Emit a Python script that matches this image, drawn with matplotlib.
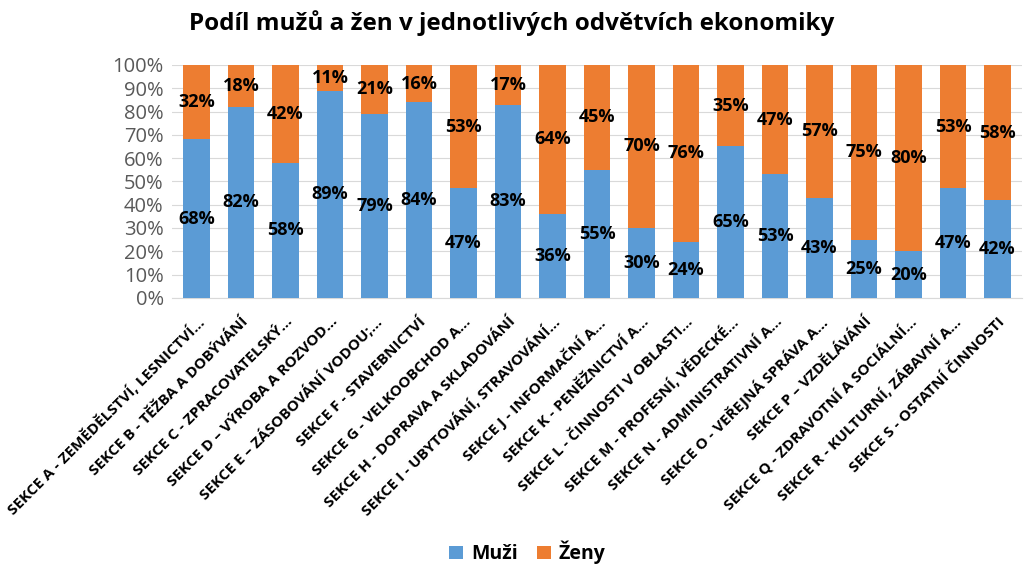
import matplotlib.pyplot as plt
import numpy as np

categories = [
    "SEKCE A - ZEMĚDĚLSTVÍ, LESNICTVÍ…",
    "SEKCE B - TĚŽBA A DOBÝVÁNÍ",
    "SEKCE C - ZPRACOVATELSKÝ…",
    "SEKCE D – VÝROBA A ROZVOD…",
    "SEKCE E – ZÁSOBOVÁNÍ VODOU;…",
    "SEKCE F - STAVEBNICTVÍ",
    "SEKCE G - VELKOOBCHOD A…",
    "SEKCE H - DOPRAVA A SKLADOVÁNÍ",
    "SEKCE I - UBYTOVÁNÍ, STRAVOVÁNÍ…",
    "SEKCE J - INFORMAČNÍ A…",
    "SEKCE K - PENĚŽNICTVÍ A…",
    "SEKCE L - ČINNOSTI V OBLASTI…",
    "SEKCE M - PROFESNÍ, VĚDECKÉ…",
    "SEKCE N - ADMINISTRATIVNÍ A…",
    "SEKCE O - VEŘEJNÁ SPRÁVA A…",
    "SEKCE P – VZDĚLÁVÁNÍ",
    "SEKCE Q - ZDRAVOTNÍ A SOCIÁLNÍ…",
    "SEKCE R - KULTURNÍ, ZÁBAVNÍ A…",
    "SEKCE S - OSTATNÍ ČINNOSTI",
]
muzi = [68, 82, 58, 89, 79, 84, 47, 83, 36, 55, 30, 24, 65, 53, 43, 25, 20, 47, 42]
zeny = [32, 18, 42, 11, 21, 16, 53, 17, 64, 45, 70, 76, 35, 47, 57, 75, 80, 53, 58]

plt.rcParams['font.family'] = ['Open Sans', 'DejaVu Sans']

blue = '#5B9BD5'
orange = '#ED7D31'

fig = plt.figure(figsize=(10.24, 5.75), dpi=100)
ax = fig.add_axes([0.168, 0.482, 0.83, 0.405])

x = np.arange(len(categories))
ax.bar(x, muzi, width=0.6, color=blue, label='Muži', zorder=3)
ax.bar(x, zeny, width=0.6, bottom=muzi, color=orange, label='Ženy', zorder=3)

for i in range(len(x)):
    ax.text(x[i], muzi[i] / 2, f"{muzi[i]}%", ha='center', va='center',
            fontsize=13, fontweight='bold', color='black', zorder=4)
    ax.text(x[i], muzi[i] + zeny[i] / 2, f"{zeny[i]}%", ha='center', va='center',
            fontsize=13, fontweight='bold', color='black', zorder=4)

ax.set_xlim(-0.55, len(x) - 0.45)
ax.set_ylim(0, 100)
ax.set_yticks(np.arange(0, 101, 10))
ax.set_yticklabels([f"{v}%" for v in range(0, 101, 10)], fontsize=14.5, color='#595959')
ax.yaxis.grid(True, color='#D9D9D9', linewidth=0.8, zorder=0)
ax.set_xticks(x)
ax.set_xticklabels(categories, rotation=45, ha='right', rotation_mode='anchor',
                   fontsize=11, fontweight='bold')
ax.tick_params(axis='y', length=0, pad=6)
ax.tick_params(axis='x', length=0, pad=12)
for s in ['top', 'right', 'left']:
    ax.spines[s].set_visible(False)
ax.spines['bottom'].set_color('#D9D9D9')

fig.text(0.5, 0.96, 'Podíl mužů a žen v jednotlivých odvětvích ekonomiky',
         ha='center', va='center', fontsize=17.5, fontweight='bold')

fig.legend(loc='lower center', bbox_to_anchor=(0.515, -0.012), ncol=2, frameon=False,
           handlelength=0.7, handleheight=0.7, columnspacing=1.0,
           handletextpad=0.4, prop={'weight': 'bold', 'size': 14})

fig.savefig('out.png', dpi=100)
